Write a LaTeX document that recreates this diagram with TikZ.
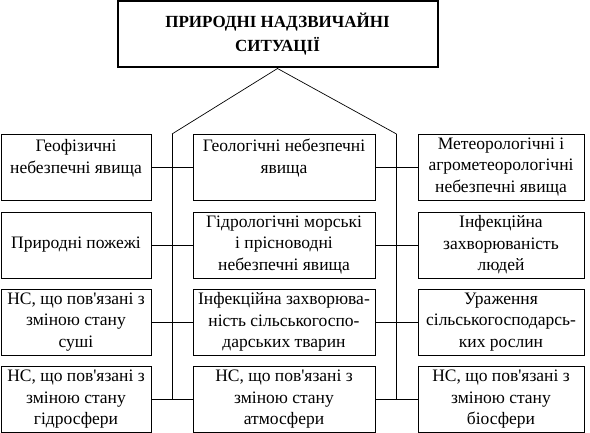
\documentclass[tikz,border=0pt]{standalone}
\usepackage{fontspec}
\setmainfont{Liberation Serif}
\usepackage{tikz}

\begin{document}
\begin{tikzpicture}[x=1pt,y=-1pt,
    every node/.style={font=\fontsize{17.5}{21.5}\selectfont},
    cell/.style={draw,line width=0.8pt,align=center,minimum height=66pt,inner sep=1pt},
    link/.style={line width=0.7pt}]
    \useasboundingbox (0,0) rectangle (590,433);
    % head box
    \node[draw,line width=2pt,align=center,minimum width=320pt,minimum height=66pt,
      font=\fontsize{17}{24}\selectfont\bfseries] (top) at (277.5,34.5)
      {ПРИРОДНІ НАДЗВИЧАЙНІ\\СИТУАЦІЇ};
    % left column
    \node[cell,minimum width=150pt] (lf1) at (76,167)   {Геофізичні\\небезпечні явища\\~};
    \node[cell,minimum width=150pt] (lf2) at (76,245)   {Природні пожежі};
    \node[cell,minimum width=150pt] (lf3) at (76,322)   {НС, що пов\textquotesingle язані з\\зміною стану\\суші};
    \node[cell,minimum width=150pt] (lf4) at (76,399.5) {НС, що пов\textquotesingle язані з\\зміною стану\\гідросфери};
    % middle column
    \node[cell,minimum width=182pt] (md1) at (284,167)   {Геологічні небезпечні\\явища\\~};
    \node[cell,minimum width=182pt] (md2) at (284,245)   {Гідрологічні морські\\і прісноводні\\небезпечні явища};
    \node[cell,minimum width=182pt] (md3) at (284,322)   {Інфекційна захворюва-\\ність сільськогоспо-\\дарських тварин};
    \node[cell,minimum width=182pt] (md4) at (284,399.5) {НС, що пов\textquotesingle язані з\\зміною стану\\атмосфери};
    % right column
    \node[cell,minimum width=166pt] (rt1) at (501,167)   {Метеорологічні і\\агрометеорологічні\\небезпечні явища};
    \node[cell,minimum width=166pt] (rt2) at (501,245)   {Інфекційна\\захворюваність\\людей};
    \node[cell,minimum width=166pt] (rt3) at (501,322)   {Ураження\\сільськогосподарсь-\\ких рослин};
    \node[cell,minimum width=166pt] (rt4) at (501,399.5) {НС, що пов\textquotesingle язані з\\зміною стану\\біосфери};
    % buses
    \coordinate (lbus) at (172,134);
    \coordinate (rbus) at (396.5,134);
    \draw[link] (lbus) -- (top.south) -- (rbus);
    \draw[link] (lbus) -- (lbus |- lf4.east);
    \draw[link] (rbus) -- (rbus |- rt4.west);
    \foreach \i in {1,...,4} {
      \draw[link] (lf\i.east) -- (md\i.west);
      \draw[link] (md\i.east) -- (rt\i.west);
    }
\end{tikzpicture}
\end{document}
